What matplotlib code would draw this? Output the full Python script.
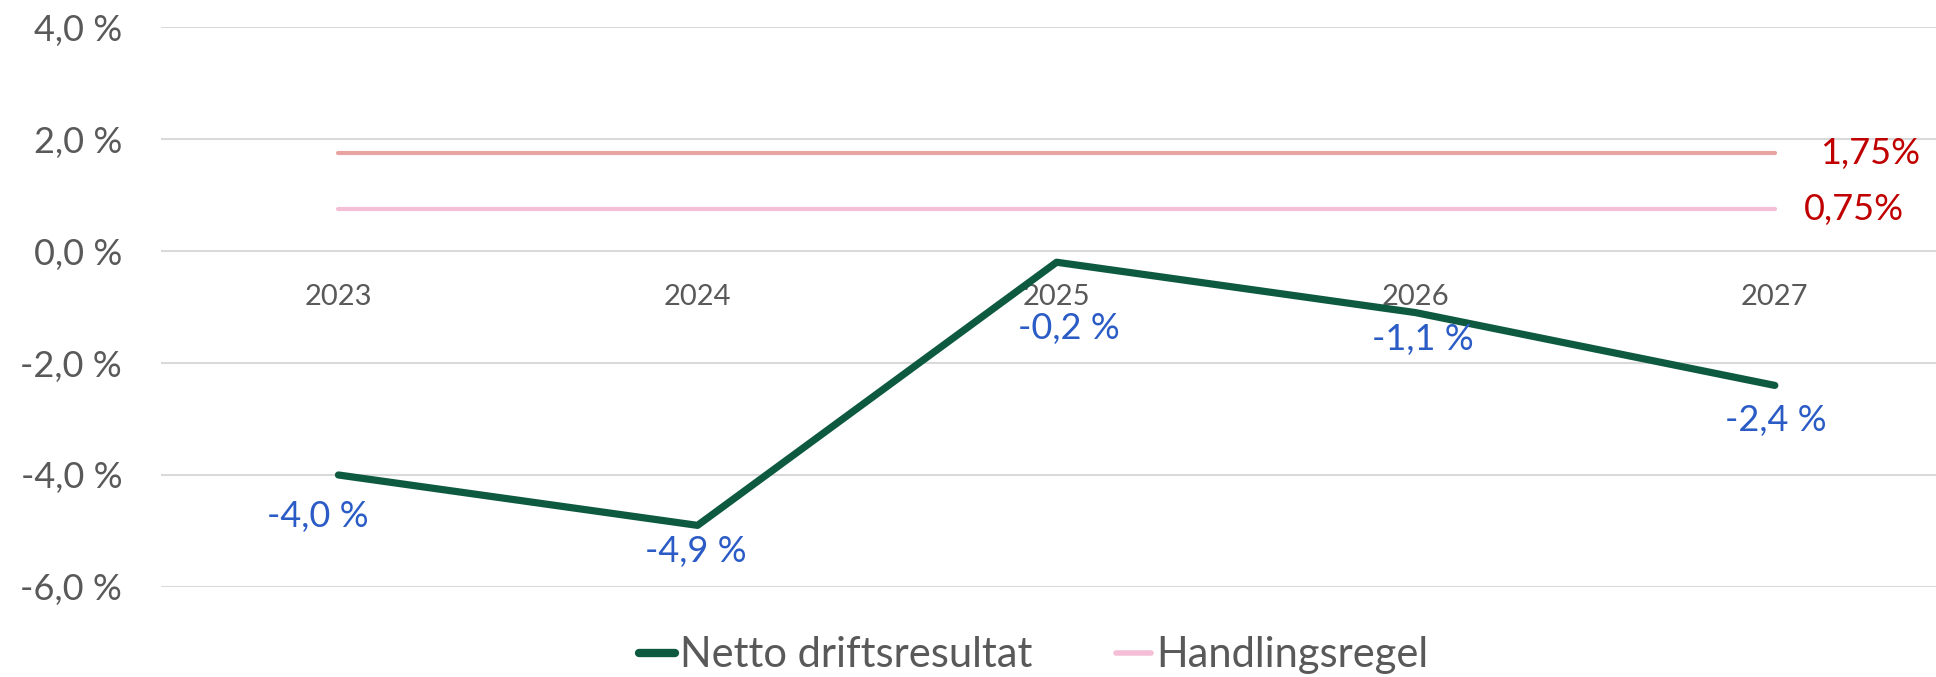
import matplotlib.pyplot as plt
from matplotlib.lines import Line2D

plt.rcParams['font.family'] = ['Lato', 'DejaVu Sans']

years = ['2023', '2024', '2025', '2026', '2027']
netto = [-4.0, -4.9, -0.2, -1.1, -2.4]
regel_high = [1.75, 1.75, 1.75, 1.75, 1.75]
regel_low = [0.75, 0.75, 0.75, 0.75, 0.75]
yticks = [-6, -4, -2, 0, 2, 4]

# label offsets below each point (points)
lbl_dx = [-15, -1, 9, 5, 1]
lbl_dy = [-30, -19, -48, -19, -25]

GREEN = '#0E5A40'
BLUE = '#2B5CC6'
GREY = '#595959'

fig = plt.figure(figsize=(19.36, 6.77), dpi=100)
ax = fig.add_axes([0.0832, 0.133, 0.9168, 0.827])
x = list(range(len(years)))

ax.plot(x, netto, color=GREEN, lw=5.2, solid_capstyle='round', zorder=3)
ax.plot(x, regel_high, color='#E8A3A3', lw=3, solid_capstyle='round', zorder=2)
ax.plot(x, regel_low, color='#F4BED6', lw=3, solid_capstyle='round', zorder=2)

for i, v in enumerate(netto):
    ax.annotate(f'{v:.1f} %'.replace('.', ','), (i, v), xytext=(lbl_dx[i], lbl_dy[i]),
                textcoords='offset points', ha='center', va='center',
                color=BLUE, fontsize=26)

ax.annotate(f'{regel_high[-1]:.2f}%'.replace('.', ','), (x[-1], regel_high[-1]),
            xytext=(69, 0), textcoords='offset points', ha='center', va='center',
            color='#C00000', fontsize=26)
ax.annotate(f'{regel_low[-1]:.2f}%'.replace('.', ','), (x[-1], regel_low[-1]),
            xytext=(57, 0), textcoords='offset points', ha='center', va='center',
            color='#C00000', fontsize=26)

ax.spines['bottom'].set_position(('data', 0))
for s in ax.spines.values():
    s.set_visible(False)
ax.set_xlim(-0.494, 4.449)
ax.set_ylim(-6, 4)
ax.set_yticks(yticks)
ax.set_yticklabels([f'{t:.1f} %'.replace('.', ',') for t in yticks])
ax.set_xticks(x)
ax.set_xticklabels(years)
ax.tick_params(axis='y', length=0, pad=28, labelsize=26, labelcolor=GREY)
ax.tick_params(axis='x', length=0, pad=24, labelsize=21, labelcolor=GREY)
ax.grid(axis='y', color='#D9D9D9', lw=1.5)
ax.set_axisbelow(True)

handles = [Line2D([], [], color=GREEN, lw=6, solid_capstyle='round'),
           Line2D([], [], color='#F4BED6', lw=4, solid_capstyle='round')]
fig.legend(handles, ['Netto driftsresultat', 'Handlingsregel'], loc='center',
           bbox_to_anchor=(0.534, 0.032), ncol=2, frameon=False, fontsize=30,
           handlelength=0.85, handletextpad=0.12, columnspacing=2.0, labelcolor=GREY,
           borderpad=0)

fig.savefig('out.png', dpi=100)
